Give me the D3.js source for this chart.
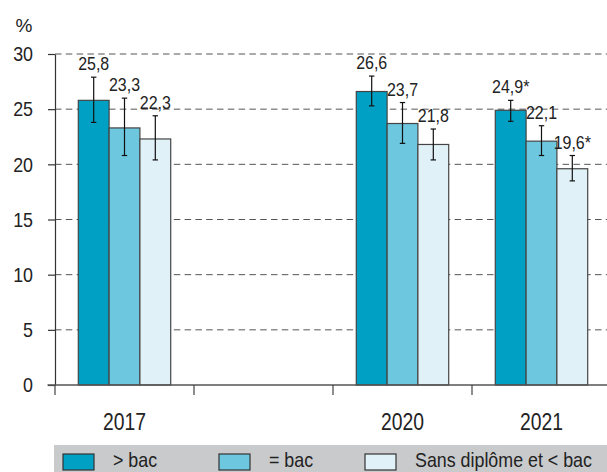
<!DOCTYPE html>
<html>
<head>
<meta charset="utf-8">
<script src="https://cdn.jsdelivr.net/npm/d3@7"></script>
<style>
  body { margin: 0; background: #fff; }
  svg { display: block; font-family: "Liberation Sans", Arial, sans-serif; }
</style>
</head>
<body>
<div id="chart"></div>
<script>
// categories (the second slot is an empty gap on the axis)
var years = ["2017", "2018-2019", "2020", "2021"];
var yearLabels = ["2017", "", "2020", "2021"];
var seriesKeys = ["sup", "eq", "inf"];
var seriesNames = ["> bac", "= bac", "Sans diplôme et < bac"];
var seriesColors = ["#00a0c4", "#6cc7df", "#e0f1f8"];

// values in %
var supBac = [25.8, null, 26.6, 24.9];
var eqBac = [23.3, null, 23.7, 22.1];
var infBac = [22.3, null, 21.8, 19.6];

// confidence intervals [low, high]
var supErr = [[23.8, 27.9], null, [25.3, 28.0], [23.9, 25.8]];
var eqErr = [[20.8, 26.0], null, [21.9, 25.6], [20.8, 23.5]];
var infErr = [[20.4, 24.4], null, [20.4, 23.2], [18.5, 20.8]];

// significant change marked with *
var supStar = [false, false, false, true];
var eqStar = [false, false, false, false];
var infStar = [false, false, false, true];

var yTicks = [0, 5, 10, 15, 20, 25, 30];

var W = 607, H = 472;
var svg = d3.select("#chart").append("svg")
    .attr("width", W)
    .attr("height", H);

// squeeze glyphs horizontally to get a condensed look
function condense(sel, k) {
    sel.each(function() {
        var len = this.getComputedTextLength();
        if (len > 0) {
            d3.select(this)
                .attr("textLength", len * k)
                .attr("lengthAdjust", "spacingAndGlyphs");
        }
    });
}

var values = [supBac, eqBac, infBac];
var errs = [supErr, eqErr, infErr];
var stars = [supStar, eqStar, infStar];

var x0 = d3.scaleBand()
    .domain(years)
    .range([55, 611]);

var x1 = d3.scaleBand()
    .domain(seriesKeys)
    .range([0, x0.bandwidth()])
    .paddingInner(0)
    .paddingOuter(0.756);

var y = d3.scaleLinear()
    .domain([0, 30])
    .range([385, 54]);

// dashed gridlines
svg.append("g")
    .selectAll("line")
    .data(yTicks.filter(function(d) { return d > 0; }))
    .enter().append("line")
    .attr("x1", 55)
    .attr("x2", W)
    .attr("y1", function(d) { return y(d); })
    .attr("y2", function(d) { return y(d); })
    .attr("stroke", "#555")
    .attr("stroke-width", 1)
    .attr("stroke-dasharray", "6.5,4.3");

// bars
var rows = [];
seriesKeys.forEach(function(k, s) {
    years.forEach(function(yr, i) {
        if (values[s][i] == null) return;
        rows.push({
            key: k, year: yr, s: s,
            value: values[s][i],
            err: errs[s][i],
            star: stars[s][i]
        });
    });
});

var barG = svg.append("g");

barG.selectAll("rect")
    .data(rows)
    .enter().append("rect")
    .attr("x", function(d) { return x0(d.year) + x1(d.key); })
    .attr("y", function(d) { return y(d.value); })
    .attr("width", x1.bandwidth())
    .attr("height", function(d) { return y(0) - y(d.value); })
    .attr("fill", function(d) { return seriesColors[d.s]; })
    .attr("stroke", "#444")
    .attr("stroke-width", 1.2);

// error bars
var eb = barG.selectAll("g.err")
    .data(rows)
    .enter().append("g")
    .attr("class", "err")
    .attr("transform", function(d) {
        return "translate(" + (x0(d.year) + x1(d.key) + x1.bandwidth() / 2) + ",0)";
    });

eb.append("line")
    .attr("y1", function(d) { return y(d.err[0]); })
    .attr("y2", function(d) { return y(d.err[1]); })
    .attr("stroke", "#111")
    .attr("stroke-width", 1.2);

eb.selectAll("line.cap")
    .data(function(d) { return d.err; })
    .enter().append("line")
    .attr("class", "cap")
    .attr("x1", -2.7)
    .attr("x2", 2.7)
    .attr("y1", function(d) { return y(d); })
    .attr("y2", function(d) { return y(d); })
    .attr("stroke", "#111")
    .attr("stroke-width", 1.2);

// value labels
eb.append("text")
    .attr("y", function(d) { return y(d.err[1]) - 7; })
    .attr("text-anchor", "middle")
    .attr("font-size", 19)
    .attr("fill", "#222")
    .text(function(d) {
        return String(d.value.toFixed(1)).replace(".", ",") + (d.star ? "*" : "");
    })
    .call(condense, 0.84);

// y axis
var yAxis = svg.append("g")
    .attr("transform", "translate(55,0)")
    .call(d3.axisLeft(y).tickValues(yTicks).tickSize(7).tickSizeOuter(0).tickPadding(15));
yAxis.select(".domain").attr("stroke", "#333").attr("stroke-width", 1.2);
yAxis.selectAll(".tick line").attr("stroke", "#333").attr("stroke-width", 1.2);
yAxis.selectAll(".tick text")
    .attr("font-size", 21)
    .attr("fill", "#222")
    .attr("font-family", null)
    .call(condense, 0.85);

svg.append("text")
    .attr("x", 24)
    .attr("y", 32)
    .attr("text-anchor", "middle")
    .attr("font-size", 19)
    .attr("fill", "#222")
    .text("%");

// x axis
svg.append("line")
    .attr("x1", 47.5)
    .attr("x2", W)
    .attr("y1", y(0))
    .attr("y2", y(0))
    .attr("stroke", "#555")
    .attr("stroke-width", 1.6);

svg.append("g")
    .selectAll("line")
    .data(years)
    .enter().append("line")
    .attr("x1", function(d) { return x0(d); })
    .attr("x2", function(d) { return x0(d); })
    .attr("y1", y(0))
    .attr("y2", y(0) + 10)
    .attr("stroke", "#444")
    .attr("stroke-width", 1.2);

svg.append("g")
    .selectAll("text")
    .data(years)
    .enter().append("text")
    .attr("x", function(d) { return x0(d) + x0.bandwidth() / 2; })
    .attr("y", 430)
    .attr("text-anchor", "middle")
    .attr("font-size", 23)
    .attr("fill", "#222")
    .text(function(d, i) { return yearLabels[i]; })
    .call(condense, 0.84);

// legend
var legendX = [63, 219, 365];
svg.append("rect")
    .attr("x", 54)
    .attr("y", 445)
    .attr("width", W - 54)
    .attr("height", H - 445)
    .attr("fill", "#c9cacc");

var legend = svg.append("g")
    .selectAll("g")
    .data(seriesNames)
    .enter().append("g")
    .attr("transform", function(d, i) { return "translate(" + legendX[i] + ",454)"; });

legend.append("rect")
    .attr("width", 31)
    .attr("height", 16)
    .attr("fill", function(d, i) { return seriesColors[i]; })
    .attr("stroke", "#333")
    .attr("stroke-width", 1.2);

legend.append("g")
    .attr("transform", "translate(50,12.5) scale(0.85,1)")
    .append("text")
    .attr("font-size", 21)
    .attr("fill", "#222")
    .text(function(d) { return d; });
</script>
</body>
</html>
